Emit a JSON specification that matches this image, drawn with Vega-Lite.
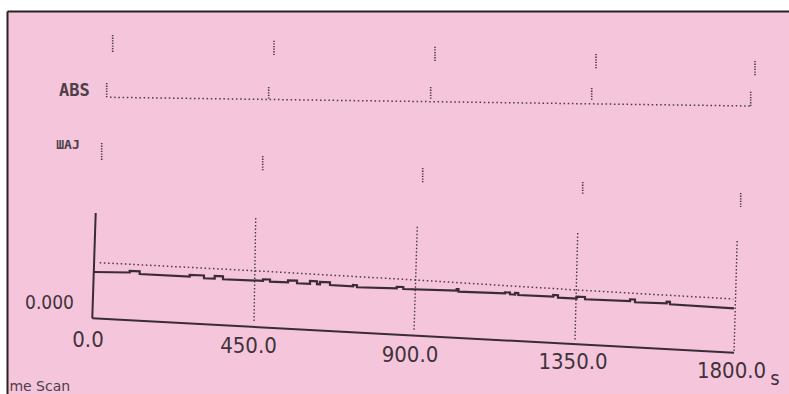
{
  "$schema": "https://vega.github.io/schema/vega-lite/v6.json",
  "width": 782,
  "height": 383,
  "autosize": {"type": "none"},
  "padding": {"left": 7, "top": 11, "right": 0, "bottom": 0},
  "background": "white",
  "config": {"view": {"fill": "#f5c5db", "stroke": null}},
  "datasets": {
    "curve": [
      {"i": 1, "t": 4.2, "a": 0.063},
      {"i": 2, "t": 104.3, "a": 0.0625},
      {"i": 3, "t": 104.3, "a": 0.064},
      {"i": 4, "t": 132.3, "a": 0.0637},
      {"i": 5, "t": 132.3, "a": 0.061},
      {"i": 6, "t": 272.5, "a": 0.0583},
      {"i": 7, "t": 272.5, "a": 0.060},
      {"i": 8, "t": 312.6, "a": 0.0595},
      {"i": 9, "t": 312.6, "a": 0.0567},
      {"i": 10, "t": 342.6, "a": 0.0564},
      {"i": 11, "t": 342.6, "a": 0.059},
      {"i": 12, "t": 365.9, "a": 0.0587},
      {"i": 13, "t": 365.9, "a": 0.0557},
      {"i": 14, "t": 478.0, "a": 0.0542},
      {"i": 15, "t": 478.0, "a": 0.0557},
      {"i": 16, "t": 497.7, "a": 0.0555},
      {"i": 17, "t": 497.7, "a": 0.0533},
      {"i": 18, "t": 548.1, "a": 0.0527},
      {"i": 19, "t": 548.1, "a": 0.0547},
      {"i": 20, "t": 573.4, "a": 0.0544},
      {"i": 21, "t": 573.4, "a": 0.0517},
      {"i": 22, "t": 609.8, "a": 0.0512},
      {"i": 23, "t": 609.8, "a": 0.054},
      {"i": 24, "t": 629.4, "a": 0.0537},
      {"i": 25, "t": 629.4, "a": 0.0507},
      {"i": 26, "t": 637.8, "a": 0.0506},
      {"i": 27, "t": 637.8, "a": 0.053},
      {"i": 28, "t": 665.9, "a": 0.0526},
      {"i": 29, "t": 665.9, "a": 0.050},
      {"i": 30, "t": 730.4, "a": 0.0487},
      {"i": 31, "t": 730.4, "a": 0.050},
      {"i": 32, "t": 741.6, "a": 0.0498},
      {"i": 33, "t": 741.6, "a": 0.0477},
      {"i": 34, "t": 852.9, "a": 0.0467},
      {"i": 35, "t": 852.9, "a": 0.0482},
      {"i": 36, "t": 871.4, "a": 0.048},
      {"i": 37, "t": 871.4, "a": 0.046},
      {"i": 38, "t": 1021.1, "a": 0.0445},
      {"i": 39, "t": 1021.1, "a": 0.046},
      {"i": 40, "t": 1026.2, "a": 0.046},
      {"i": 41, "t": 1026.2, "a": 0.0433},
      {"i": 42, "t": 1156.5, "a": 0.0417},
      {"i": 43, "t": 1156.5, "a": 0.0427},
      {"i": 44, "t": 1170.5, "a": 0.0425},
      {"i": 45, "t": 1170.5, "a": 0.0407},
      {"i": 46, "t": 1184.6, "a": 0.0405},
      {"i": 47, "t": 1184.6, "a": 0.042},
      {"i": 48, "t": 1193.8, "a": 0.0419},
      {"i": 49, "t": 1193.8, "a": 0.040},
      {"i": 50, "t": 1291.9, "a": 0.0383},
      {"i": 51, "t": 1291.9, "a": 0.040},
      {"i": 52, "t": 1305.1, "a": 0.0398},
      {"i": 53, "t": 1305.1, "a": 0.0373},
      {"i": 54, "t": 1357.6, "a": 0.0365},
      {"i": 55, "t": 1357.6, "a": 0.0383},
      {"i": 56, "t": 1380.8, "a": 0.038},
      {"i": 57, "t": 1380.8, "a": 0.0357},
      {"i": 58, "t": 1507.0, "a": 0.034},
      {"i": 59, "t": 1507.0, "a": 0.0357},
      {"i": 60, "t": 1521.0, "a": 0.0355},
      {"i": 61, "t": 1521.0, "a": 0.0327},
      {"i": 62, "t": 1609.9, "a": 0.0317},
      {"i": 63, "t": 1609.9, "a": 0.0333},
      {"i": 64, "t": 1619.1, "a": 0.0332},
      {"i": 65, "t": 1619.1, "a": 0.0307},
      {"i": 66, "t": 1798.6, "a": 0.0267}
    ],
    "ref": [
      {"t": 20.2, "a": 0.0723},
      {"t": 450.0, "a": 0.0643},
      {"t": 904.2, "a": 0.055},
      {"t": 1357.6, "a": 0.045},
      {"t": 1796.6, "a": 0.036}
    ],
    "absline": [
      {"t": 49.1, "a": 0.2377},
      {"t": 1843.4, "a": 0.229}
    ],
    "segs": [
      {"kind": "axis", "t": -0.6, "a": 0.0167, "t2": 1798.6, "a2": -0.0177},
      {"kind": "axis", "t": 9.0, "a": 0.122, "t2": -0.6, "a2": 0.0167},
      {"kind": "grid", "t": 457.6, "a": 0.117, "t2": 452.8, "a2": 0.012},
      {"kind": "grid", "t": 910.6, "a": 0.1083, "t2": 901.4, "a2": 0.0033},
      {"kind": "grid", "t": 1360.4, "a": 0.102, "t2": 1352.8, "a2": -0.005},
      {"kind": "grid", "t": 1807.4, "a": 0.094, "t2": 1798.6, "a2": -0.0177},
      {"kind": "frag", "t": 56.6, "a": 0.300, "t2": 56.6, "a2": 0.283},
      {"kind": "frag", "t": 508.9, "a": 0.2943, "t2": 508.9, "a2": 0.279},
      {"kind": "frag", "t": 960.3, "a": 0.2883, "t2": 960.3, "a2": 0.2727},
      {"kind": "frag", "t": 1411.7, "a": 0.281, "t2": 1411.7, "a2": 0.2657},
      {"kind": "frag", "t": 1857.5, "a": 0.274, "t2": 1857.5, "a2": 0.259},
      {"kind": "frag", "t": 39.8, "a": 0.252, "t2": 39.8, "a2": 0.237},
      {"kind": "frag", "t": 494.0, "a": 0.248, "t2": 494.0, "a2": 0.235},
      {"kind": "frag", "t": 948.2, "a": 0.248, "t2": 948.2, "a2": 0.235},
      {"kind": "frag", "t": 1399.6, "a": 0.247, "t2": 1399.6, "a2": 0.235},
      {"kind": "frag", "t": 1845.4, "a": 0.2433, "t2": 1845.4, "a2": 0.229},
      {"kind": "frag", "t": 25.8, "a": 0.192, "t2": 25.8, "a2": 0.175},
      {"kind": "frag", "t": 477.2, "a": 0.179, "t2": 477.2, "a2": 0.164},
      {"kind": "frag", "t": 925.8, "a": 0.167, "t2": 925.8, "a2": 0.152},
      {"kind": "frag", "t": 1374.4, "a": 0.153, "t2": 1374.4, "a2": 0.140},
      {"kind": "frag", "t": 1817.4, "a": 0.142, "t2": 1817.4, "a2": 0.128}
    ],
    "labels": [
      {"kind": "tick", "t": -12.6, "a": -0.005, "text": "0.0"},
      {"kind": "tick", "t": 437.4, "a": -0.0105, "text": "450.0"},
      {"kind": "tick", "t": 890.2, "a": -0.020, "text": "900.0"},
      {"kind": "tick", "t": 1347.2, "a": -0.0265, "text": "1350.0"},
      {"kind": "tick", "t": 1791.6, "a": -0.036, "text": "1800.0"},
      {"kind": "unit", "t": 1913.5, "a": -0.044, "text": "s"},
      {"kind": "ylab", "t": -120.6, "a": 0.032, "text": "0.000"},
      {"kind": "abs", "t": -50.5, "a": 0.2443, "text": "ABS"},
      {"kind": "abs2", "t": -68.7, "a": 0.190, "text": "ШAJ"},
      {"kind": "foot", "t": -233.0, "a": -0.0555, "text": "me Scan"}
    ]
  },
  "encoding": {
    "x": {
      "field": "t", "type": "quantitative",
      "scale": {"domain": [-239.7, 1952.8], "nice": false, "zero": false},
      "axis": {"orient": "top", "labels": false, "ticks": false, "grid": false, "domain": true, "domainColor": "#2a2025", "domainWidth": 2, "title": null}
    },
    "y": {
      "field": "a", "type": "quantitative",
      "scale": {"domain": [-0.059, 0.324], "nice": false, "zero": false},
      "axis": {"orient": "left", "labels": false, "ticks": false, "grid": false, "domain": true, "domainColor": "#2a2025", "domainWidth": 2, "title": null}
    }
  },
  "layer": [
    {
      "data": {"name": "segs"},
      "transform": [{"filter": "datum.kind == 'axis'"}],
      "mark": {"type": "rule", "color": "#3a2c35", "strokeWidth": 2},
      "encoding": {"x2": {"field": "t2"}, "y2": {"field": "a2"}}
    },
    {
      "data": {"name": "segs"},
      "transform": [{"filter": "datum.kind == 'grid'"}],
      "mark": {"type": "rule", "color": "#4a3b45", "strokeWidth": 1.4, "strokeDash": [1.5, 2]},
      "encoding": {"x2": {"field": "t2"}, "y2": {"field": "a2"}}
    },
    {
      "data": {"name": "segs"},
      "transform": [{"filter": "datum.kind == 'frag'"}],
      "mark": {"type": "rule", "color": "#4a3b45", "strokeWidth": 1.6, "strokeDash": [1.3, 1.3]},
      "encoding": {"x2": {"field": "t2"}, "y2": {"field": "a2"}}
    },
    {
      "data": {"name": "absline"},
      "mark": {"type": "line", "color": "#4a3b45", "strokeWidth": 1.5, "strokeDash": [1.5, 2.7]},
      "encoding": {}
    },
    {
      "data": {"name": "ref"},
      "mark": {"type": "line", "color": "#4a3b45", "strokeWidth": 1.5, "strokeDash": [1.5, 2.7]},
      "encoding": {}
    },
    {
      "data": {"name": "curve"},
      "mark": {"type": "line", "color": "#3a2c35", "strokeWidth": 2.2},
      "encoding": {"order": {"field": "i", "type": "quantitative"}}
    },
    {
      "data": {"name": "labels"},
      "transform": [{"filter": "datum.kind == 'tick'"}],
      "mark": {"type": "text", "font": "DejaVu Sans Condensed, DejaVu Sans", "fontSize": 22, "color": "#3f333b", "align": "center", "baseline": "middle"},
      "encoding": {"text": {"field": "text"}}
    },
    {
      "data": {"name": "labels"},
      "transform": [{"filter": "datum.kind == 'unit'"}],
      "mark": {"type": "text", "font": "DejaVu Sans Condensed, DejaVu Sans", "fontSize": 20, "color": "#3f333b", "align": "center", "baseline": "middle"},
      "encoding": {"text": {"field": "text"}}
    },
    {
      "data": {"name": "labels"},
      "transform": [{"filter": "datum.kind == 'ylab'"}],
      "mark": {"type": "text", "font": "DejaVu Sans Condensed, DejaVu Sans", "fontSize": 19, "color": "#3f333b", "align": "center", "baseline": "middle"},
      "encoding": {"text": {"field": "text"}}
    },
    {
      "data": {"name": "labels"},
      "transform": [{"filter": "datum.kind == 'abs'"}],
      "mark": {"type": "text", "font": "DejaVu Sans Mono", "fontSize": 17, "fontWeight": "bold", "color": "#4d4048", "align": "center", "baseline": "middle"},
      "encoding": {"text": {"field": "text"}}
    },
    {
      "data": {"name": "labels"},
      "transform": [{"filter": "datum.kind == 'abs2'"}],
      "mark": {"type": "text", "font": "DejaVu Sans Mono", "fontSize": 13, "fontWeight": "bold", "color": "#4d4048", "align": "center", "baseline": "middle"},
      "encoding": {"text": {"field": "text"}}
    },
    {
      "data": {"name": "labels"},
      "transform": [{"filter": "datum.kind == 'foot'"}],
      "mark": {"type": "text", "font": "DejaVu Sans", "fontSize": 14, "color": "#4d4048", "align": "left", "baseline": "alphabetic"},
      "encoding": {"text": {"field": "text"}}
    }
  ]
}
